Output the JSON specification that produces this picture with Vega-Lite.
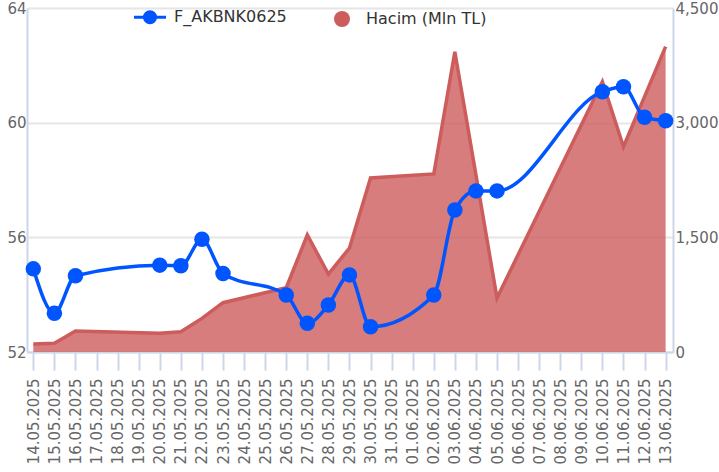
{
  "$schema": "https://vega.github.io/schema/vega-lite/v6.json",
  "width": 646,
  "height": 344,
  "autosize": {"type": "none"},
  "padding": {"left": 27, "top": 8, "right": 46, "bottom": 120},
  "background": "white",
  "config": {
    "view": {"stroke": null},
    "font": "DejaVu Sans",
    "axis": {
      "labelFont": "DejaVu Sans",
      "labelFontSize": 15,
      "labelColor": "#666666",
      "domainColor": "#ccd6eb",
      "tickColor": "#ccd6eb",
      "title": null
    },
    "legend": {
      "labelFont": "DejaVu Sans"
    }
  },
  "data": {
    "values": [
      {"date": "2025-05-14", "price": 54.90, "volume": 105},
      {"date": "2025-05-15", "price": 53.35, "volume": 114},
      {"date": "2025-05-16", "price": 54.66, "volume": 275},
      {"date": "2025-05-20", "price": 55.03, "volume": 244},
      {"date": "2025-05-21", "price": 55.01, "volume": 266},
      {"date": "2025-05-22", "price": 55.93, "volume": 440},
      {"date": "2025-05-23", "price": 54.74, "volume": 645},
      {"date": "2025-05-26", "price": 53.99, "volume": 841},
      {"date": "2025-05-27", "price": 53.00, "volume": 1531},
      {"date": "2025-05-28", "price": 53.64, "volume": 1020},
      {"date": "2025-05-29", "price": 54.69, "volume": 1360},
      {"date": "2025-05-30", "price": 52.88, "volume": 2276},
      {"date": "2025-06-02", "price": 53.99, "volume": 2329},
      {"date": "2025-06-03", "price": 56.95, "volume": 3928},
      {"date": "2025-06-04", "price": 57.62, "volume": 2317},
      {"date": "2025-06-05", "price": 57.62, "volume": 706},
      {"date": "2025-06-10", "price": 61.08, "volume": 3536},
      {"date": "2025-06-11", "price": 61.25, "volume": 2686},
      {"date": "2025-06-12", "price": 60.19, "volume": 3340},
      {"date": "2025-06-13", "price": 60.07, "volume": 3994}
    ]
  },
  "encoding": {
    "x": {
      "field": "date",
      "type": "temporal",
      "scale": {
        "type": "utc",
        "domain": [
          {"year": 2025, "month": 5, "date": 13, "hours": 16, "minutes": 48, "utc": true},
          {"year": 2025, "month": 6, "date": 13, "hours": 8, "minutes": 24, "utc": true}
        ]
      },
      "axis": {
        "labelExpr": "utcFormat(datum.value, '%d.%m.%Y')",
        "tickCount": {"interval": "day", "step": 1},
        "labelAngle": -90,
        "tickSize": 18,
        "labelPadding": 8,
        "labelOverlap": false,
        "labelBound": false,
        "labelFlush": false,
        "grid": false,
        "domainWidth": 2,
        "tickWidth": 2
      }
    }
  },
  "layer": [
    {
      "mark": {
        "type": "area",
        "fillOpacity": 0.8,
        "line": {"strokeWidth": 3.5},
        "clip": true
      },
      "encoding": {
        "y": {
          "field": "volume",
          "type": "quantitative",
          "scale": {"domain": [0, 4500], "nice": false, "zero": true},
          "axis": {
            "orient": "right",
            "values": [0, 1500, 3000, 4500],
            "labelExpr": "format(datum.value, ',')",
            "grid": false,
            "ticks": false,
            "labelPadding": 2,
            "domainWidth": 2
          }
        },
        "color": {
          "datum": "Hacim (Mln TL)",
          "scale": {
            "domain": ["F_AKBNK0625", "Hacim (Mln TL)"],
            "range": ["#0055ff", "#cd5c5c"]
          },
          "legend": {
            "orient": "none",
            "legendX": 115,
            "legendY": 1,
            "direction": "horizontal",
            "title": null,
            "padding": 0,
            "symbolSize": 256,
            "labelFontSize": 16,
            "labelColor": "#333333",
            "labelOffset": 16,
            "columnPadding": 47,
            "symbolOpacity": 1,
            "encode": {
              "symbols": {
                "update": {
                  "shape": {"signal": "datum.value == 'F_AKBNK0625' ? 'M-2,0L2,0M0.69,0A0.69,0.69,0,1,1,-0.69,0A0.69,0.69,0,1,1,0.69,0Z' : 'circle'"},
                  "fill": {"scale": "color", "field": "value"},
                  "stroke": {"scale": "color", "field": "value"},
                  "strokeWidth": {"signal": "datum.value == 'F_AKBNK0625' ? 3 : 0"},
                  "opacity": {"value": 1},
                  "fillOpacity": {"value": 1},
                  "strokeOpacity": {"value": 1}
                }
              }
            }
          }
        }
      }
    },
    {
      "mark": {
        "type": "line",
        "interpolate": "monotone",
        "strokeWidth": 3.5,
        "point": {"filled": true, "size": 240, "opacity": 1}
      },
      "encoding": {
        "y": {
          "field": "price",
          "type": "quantitative",
          "scale": {"domain": [52, 64], "nice": false, "zero": false},
          "axis": {
            "orient": "left",
            "values": [52, 56, 60, 64],
            "grid": true,
            "gridColor": "#e6e6e6",
            "gridWidth": 2,
            "ticks": false,
            "labelPadding": 1,
            "domainWidth": 2
          }
        },
        "color": {"datum": "F_AKBNK0625"}
      }
    }
  ],
  "resolve": {"scale": {"y": "independent"}}
}
